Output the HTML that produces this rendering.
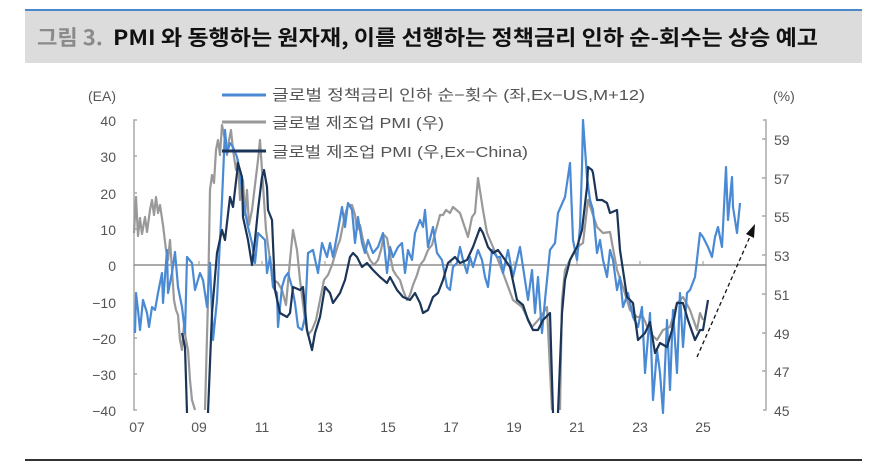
<!DOCTYPE html>
<html><head><meta charset="utf-8"><style>
body{margin:0;background:#fff;width:888px;height:462px;overflow:hidden;font-family:"Liberation Sans","Noto Sans CJK KR",sans-serif}
</style></head><body>
<svg width="888" height="462" xmlns="http://www.w3.org/2000/svg" font-family="Liberation Sans, Noto Sans CJK KR, sans-serif">
<rect x="25" y="10" width="837" height="53" fill="#dcdcdc"/>
<rect x="25" y="9" width="837" height="2" fill="#4a86c8"/>
<text x="37" y="45" font-size="21" font-weight="bold" fill="#8a8a8a" font-family="Noto Sans CJK KR, sans-serif" textLength="66" lengthAdjust="spacingAndGlyphs">그림 3.</text>
<text x="113" y="45" font-size="21" font-weight="bold" fill="#111" font-family="Noto Sans CJK KR, sans-serif" textLength="705" lengthAdjust="spacingAndGlyphs">PMI 와 동행하는 원자재, 이를 선행하는 정책금리 인하 순-회수는 상승 예고</text>
<rect x="25" y="459" width="837" height="2" fill="#333"/>
<g fill="#555" font-size="14">
<text x="88" y="101">(EA)</text><text x="773" y="101">(%)</text>
<g text-anchor="end">
<text x="116" y="126">40</text><text x="116" y="162">30</text><text x="116" y="199">20</text><text x="116" y="235">10</text><text x="116" y="271">0</text><text x="116" y="308">−10</text><text x="116" y="344">−20</text><text x="116" y="380">−30</text><text x="116" y="416">−40</text></g>
<g><text x="774" y="145">59</text><text x="774" y="184">57</text><text x="774" y="222">55</text><text x="774" y="261">53</text><text x="774" y="300">51</text><text x="774" y="339">49</text><text x="774" y="377">47</text><text x="774" y="416">45</text></g>
<g text-anchor="middle"><text x="137" y="432">07</text><text x="199" y="432">09</text><text x="262" y="432">11</text><text x="325" y="432">13</text><text x="388" y="432">15</text><text x="451" y="432">17</text><text x="514" y="432">19</text><text x="577" y="432">21</text><text x="640" y="432">23</text><text x="703" y="432">25</text></g>
</g>
<g stroke="#aaa" stroke-width="1.5" fill="none">
<path d="M137,120H134V410H137M134,156h3M134,193h3M134,229h3M134,302h3M134,338h3M134,374h3"/>
<path d="M763,120H766V410H763M766,139h-4M766,178h-4M766,216h-4M766,255h-4M766,294h-4M766,333h-4M766,371h-4"/>
</g>
<path d="M134,265H766" stroke="#777" stroke-width="1.2"/>
<path d="M199,265v-4M262,265v-4M325,265v-4M388,265v-4M451,265v-4M514,265v-4M577,265v-4M640,265v-4M703,265v-4" stroke="#999"/>
<g fill="none" stroke-width="2.2" stroke-linejoin="round">
<polyline stroke="#999" points="134,233 136,197 138,236 140,218 142,234 145,217 147,232 150,210 152,200 154,215 156,197 158,213 160,205 163,225 166,250 168,260 170,240 172,270 174,300 176,310 178,315 180,340 182,350 184,325 186,340 188,350 190,380 192,400 195,410"/>
<polyline stroke="#999" points="205,410 208,300 210,190 212,175 214,183 216,150 218,140 220,155 222,125 225,140 227,155 229,140 231,130 233,150 236,170 238,160 240,200 243,180 245,215 247,190 249,225 252,210 255,185 258,160 260,140 262,170 264,200 266,230 270,260 274,280 278,283 282,290 286,305 290,260 293,230 297,250 300,280 305,320 308,335 312,330 316,320 320,300 324,280 328,275 332,265 335,255 338,245 340,240 342,230 345,215 348,205 352,205 355,215 357,230 360,225 363,240 366,250 370,260 374,265 378,260 381,250 384,235 387,238 390,255 393,270 396,275 400,280 403,290 407,300 410,295 413,285 417,275 420,265 424,260 428,250 432,245 436,230 440,215 443,215 446,210 450,213 453,207 460,213 468,237 472,217 475,213 478,178 483,210 487,233 493,247 503,273 513,300 522,307 532,327 540,318 547,307 550,370 552,410"/>
<polyline stroke="#999" points="560,410 562,300 565,270 575,250 580,245 583,243 588,200 597,227 603,233 610,232 612,243 617,270 623,287 630,310 637,317 643,317 650,333 657,340 663,330 670,327 677,303 683,297 690,310 697,330 700,313 703,320"/>
<polyline stroke="#4a8ad4" points="135,333 136,293 138,310 140,330 143,300 147,313 149,327 152,307 155,310 158,293 162,273 163,303 167,250 168,293 172,273 175,252 178,287 182,307 185,333 187,257 192,263 195,290 200,273 203,280 207,307 210,263 213,340 217,300 222,200 225,130 227,153 230,143 233,147 237,157 240,173 243,200 248,227 252,243 255,263 258,233 262,237 265,240 267,273 270,257 273,287 277,293 278,327 282,287 285,277 288,273 292,287 295,303 298,327 302,330 305,317 308,253 313,250 318,273 322,243 327,257 330,243 333,257 338,230 342,207 345,227 348,203 352,210 355,243 358,217 362,243 365,253 368,240 373,253 378,247 383,233 387,273 390,247 393,257 398,247 402,243 405,273 408,250 412,260 415,233 420,220 423,227 425,210 428,247 433,227 437,253 442,260 447,287 450,290 453,267 457,263 460,247 463,260 467,273 470,257 473,267 478,250 482,260 485,277 488,287 492,250 497,257 500,257 503,273 508,250 513,277 520,247 523,267 528,300 532,270 535,313 538,277 542,333 545,300 550,250 555,243 558,213 565,197 570,163 573,240 577,260 580,227 582,167 583,120 587,177 590,200 593,210 597,253 600,240 603,260 607,277 610,250 613,260 617,290 620,277 623,307 628,293 633,317 638,327 642,307 645,373 650,313 653,400 657,350 660,373 663,413 667,320 670,390 673,310 677,373 680,293 683,347 687,293 690,290 695,277 700,233 703,237 708,247 712,257 715,237 718,227 722,247 726,167 728,220 732,177 733,207 737,233 740,203"/>
<polyline stroke="#1a3558" points="182,333 185,347 187,413"/>
<polyline stroke="#1a3558" points="208,413 212,313 217,253 222,230 225,240 230,197 233,207 237,173 238,163 242,177 243,217 248,240 252,265 255,240 258,210 262,177 264,170 267,187 268,210 272,220 275,290 280,313 287,317 290,313 293,287 300,290 303,287 307,330 312,350 315,333 320,317 325,287 330,293 333,303 340,293 345,280 350,257 353,253 357,257 362,267 367,263 373,270 380,277 387,283 390,277 397,290 403,297 410,300 415,293 420,303 423,313 428,310 433,297 438,293 443,280 448,263 455,257 460,263 467,260 473,247 480,228 483,233 488,247 493,253 498,250 503,257 510,267 517,300 523,305 528,320 533,330 538,330 543,320 550,313 553,413"/>
<polyline stroke="#1a3558" points="558,413 562,313 565,280 570,260 577,247 582,230 587,187 588,167 592,170 593,173 597,200 602,200 607,203 610,213 617,210 620,250 627,297 633,303 638,340 645,333 650,322 655,353 660,343 667,347 672,330 677,303 683,303 688,320 695,340 700,330 703,330 708,300"/>
</g>
<path d="M697,357 L752,232" stroke="#111" stroke-width="1.3" stroke-dasharray="4,3" fill="none"/>
<path d="M755,224 L754,238 L746,234 Z" fill="#111"/>
<g stroke-width="3"><path d="M222,95H266" stroke="#4a8ad4"/><path d="M222,122H266" stroke="#999"/><path d="M222,151H266" stroke="#1a3558"/></g>
<g fill="#555" font-size="15"><text x="272" y="100" textLength="373" lengthAdjust="spacingAndGlyphs">글로벌 정책금리 인하 순−횟수 (좌,Ex−US,M+12)</text><text x="272" y="128" textLength="172" lengthAdjust="spacingAndGlyphs">글로벌 제조업 PMI (우)</text><text x="272" y="157" textLength="256" lengthAdjust="spacingAndGlyphs">글로벌 제조업 PMI (우,Ex−China)</text></g>
</svg>
</body></html>
